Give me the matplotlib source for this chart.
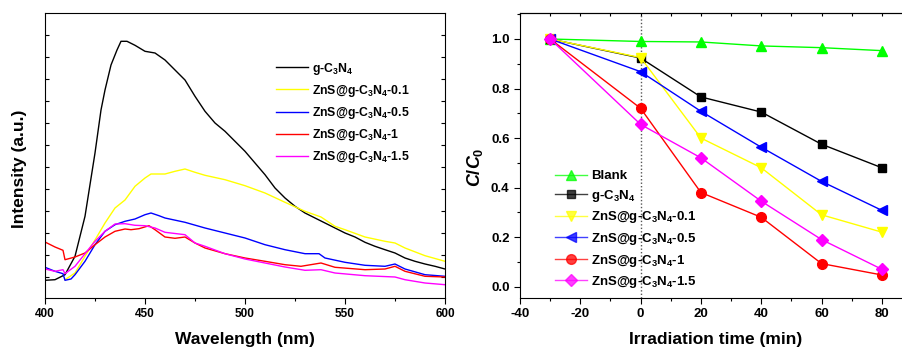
"""Two-panel figure: PL spectra (left) and photocatalytic degradation C/C0 (right)."""

import matplotlib
matplotlib.use("Agg")
import matplotlib.pyplot as plt
from matplotlib.ticker import FixedLocator, MultipleLocator
import numpy as np

plt.rcParams["font.family"] = ["Liberation Sans", "DejaVu Sans"]
plt.rcParams["font.weight"] = "bold"
plt.rcParams["axes.unicode_minus"] = False
plt.rcParams["mathtext.fontset"] = "custom"
plt.rcParams["mathtext.rm"] = "Liberation Sans:bold"
plt.rcParams["mathtext.bf"] = "Liberation Sans:bold"
plt.rcParams["mathtext.it"] = "Liberation Sans:italic:bold"

# ---- left panel: PL spectra (arbitrary units) ----
wl_black = [400, 405, 410, 415, 420, 425, 428, 430, 433, 436, 438, 441, 445, 450, 455, 460,
            465, 470, 475, 480, 485, 490, 495, 500, 505, 510, 515, 520, 525, 530, 535, 540,
            545, 550, 555, 560, 565, 570, 575, 580, 585, 590, 595, 600]
pl_black = [17.7, 18.3, 23.3, 41.7, 81.7, 145, 188, 208, 233, 248, 256.7, 256.7, 252.7, 246.7,
            245, 238, 228, 218, 201.7, 186.7, 175, 166.7, 156.7, 146.7, 135, 123.3, 110, 100,
            91.7, 85, 80, 75, 70, 65, 61, 55.7, 51.7, 48.3, 45, 40, 36.7, 34, 31.7, 29]

wl_yellow = [410, 415, 420, 425, 430, 435, 440, 445, 450, 453, 460, 465, 470, 475, 480, 490,
             500, 510, 520, 530, 538, 545, 550, 560, 570, 575, 580, 590, 600]
pl_yellow = [18.3, 25, 41.7, 58, 75, 90, 98, 111.7, 120, 124, 124, 126.7, 129, 125.7, 122.7,
             118.3, 112.3, 105, 95.7, 86.7, 81, 71.7, 68.3, 61, 56.7, 55, 50, 42.3, 36.7]

wl_blue = [400, 405, 409, 410, 413, 415, 420, 425, 430, 435, 440, 445, 450, 453, 457, 460,
           470, 480, 490, 500, 510, 520, 530, 537, 540, 550, 560, 570, 575, 580, 590, 600]
pl_blue = [30.7, 26.7, 24.3, 17.7, 19, 23.3, 36.7, 53.3, 66.7, 73.3, 76.7, 79, 83.3, 85, 82.3,
           80, 75.7, 70, 65, 60, 53.3, 48.3, 44.3, 44.3, 40, 35.7, 32.7, 31.7, 34, 29, 23.3, 21.7]

wl_red = [400, 405, 409, 410, 415, 420, 425, 430, 435, 440, 443, 447, 452, 455, 460, 465,
          470, 475, 480, 490, 500, 510, 520, 528, 538, 545, 560, 570, 575, 580, 590, 600]
pl_red = [56, 51, 47.7, 38.3, 41, 45, 53.3, 61, 66.7, 69, 68.3, 69.3, 72.3, 68.3, 61, 59.7,
          61, 55, 50, 44.3, 40, 36.7, 33.3, 31.7, 35, 30.7, 28.3, 29, 31.7, 26.7, 21.7, 21]

wl_magenta = [400, 405, 409, 410, 415, 420, 425, 430, 435, 440, 445, 450, 455, 460, 470, 475,
              480, 490, 500, 510, 520, 530, 538, 545, 560, 575, 580, 590, 600]
pl_magenta = [29, 26.7, 28.3, 24.3, 31.7, 44.3, 56.7, 66.7, 74, 74.3, 72.7, 72.3, 70, 65.7,
              63.3, 55, 51.7, 44.3, 39, 35, 31, 27.7, 28.3, 25, 22.3, 21, 18.3, 15, 13.3]

# ---- right panel: degradation ----
time_min = [-30, 0, 20, 40, 60, 80]
c_blank = [1.0, 0.99, 0.988, 0.972, 0.965, 0.953]
c_gcn = [1.0, 0.923, 0.766, 0.705, 0.575, 0.48]
c_zns01 = [1.0, 0.925, 0.60, 0.48, 0.29, 0.22]
c_zns05 = [1.0, 0.868, 0.708, 0.563, 0.425, 0.308]
c_zns1 = [1.0, 0.72, 0.38, 0.28, 0.093, 0.047]
c_zns15 = [1.0, 0.655, 0.52, 0.345, 0.19, 0.07]

lbl_gcn = r"g-C$_3$N$_4$"
lbl_01 = r"ZnS@g-C$_3$N$_4$-0.1"
lbl_05 = r"ZnS@g-C$_3$N$_4$-0.5"
lbl_1 = r"ZnS@g-C$_3$N$_4$-1"
lbl_15 = r"ZnS@g-C$_3$N$_4$-1.5"

fig = plt.figure(figsize=(9.03, 3.5), dpi=100)
W, H = 903, 350
ax1 = fig.add_axes([45 / W, 52 / H, 400 / W, 285 / H])
ax2 = fig.add_axes([520 / W, 52 / H, 392 / W, 285 / H])

# left panel
ax1.plot(wl_black, pl_black, color="black", lw=1, label=lbl_gcn)
ax1.plot(wl_yellow, pl_yellow, color="#ffff00", lw=1, label=lbl_01)
ax1.plot(wl_blue, pl_blue, color="#0000ff", lw=1, label=lbl_05)
ax1.plot(wl_red, pl_red, color="#ff0000", lw=1, label=lbl_1)
ax1.plot(wl_magenta, pl_magenta, color="#ff00ff", lw=1, label=lbl_15)
ax1.set_xlim(400, 600)
ax1.set_ylim(0, 285)
ax1.xaxis.set_major_locator(MultipleLocator(50))
ax1.xaxis.set_minor_locator(MultipleLocator(25))
ax1.yaxis.set_major_locator(FixedLocator(np.arange(21, 285, 22)))
ax1.tick_params(axis="y", which="both", direction="in", left=True, right=True,
                labelleft=False, length=3, width=0.8)
ax1.tick_params(axis="x", which="major", direction="out", length=4, width=0.8,
                labelsize=8.5, pad=3)
ax1.tick_params(axis="x", which="minor", direction="out", length=2.5, width=0.8)
ax1.set_xlabel("Wavelength (nm)", fontsize=12.5, fontweight="bold", labelpad=9)
ax1.set_ylabel("Intensity (a.u.)", fontsize=12.5, fontweight="bold")
ax1.yaxis.set_label_coords(-0.045, 0.455)
ax1.legend(loc="upper left", bbox_to_anchor=(0.565, 0.85), frameon=False,
           fontsize=8.8, handlelength=2.6, handletextpad=0.35, labelspacing=0.5,
           borderaxespad=0)

# right panel
ax2.axvline(0, color="#555555", lw=1, ls=(0, (1, 1.5)))
ax2.plot(time_min, c_blank, color="#00ff00", lw=1, marker="^", ms=7, label="Blank")
ax2.plot(time_min, c_gcn, color="black", lw=1, marker="s", ms=6, label=lbl_gcn)
ax2.plot(time_min, c_zns01, color="#ffff00", lw=1, marker="v", ms=7, label=lbl_01)
ax2.plot(time_min, c_zns05, color="#0000ff", lw=1, marker="<", ms=7, label=lbl_05)
ax2.plot(time_min, c_zns1, color="#ff0000", lw=1, marker="o", ms=7, label=lbl_1)
ax2.plot(time_min, c_zns15, color="#ff00ff", lw=1, marker="D", ms=6, label=lbl_15)
ax2.set_xlim(-40, 90)
ax2.set_ylim(-0.046, 1.105)
ax2.xaxis.set_major_locator(FixedLocator([-40, -20, 0, 20, 40, 60, 80]))
ax2.xaxis.set_minor_locator(MultipleLocator(10))
ax2.yaxis.set_major_locator(MultipleLocator(0.2))
ax2.yaxis.set_minor_locator(MultipleLocator(0.1))
ax2.yaxis.set_major_formatter(plt.FuncFormatter(lambda v, p: f"{v:.1f}"))
ax2.tick_params(which="major", direction="out", length=4, width=0.8, labelsize=9.5)
ax2.tick_params(which="minor", direction="out", length=2.5, width=0.8)
ax2.spines["right"].set_visible(False)
top = ax2.secondary_xaxis("top")
top.set_xticks(np.arange(-40, 91, 10))
top.tick_params(direction="in", length=2.5, width=0.8, labeltop=False)
top.xaxis.set_minor_locator(plt.NullLocator())
ax2.set_xlabel("Irradiation time (min)", fontsize=12.5, fontweight="bold", labelpad=8)
ax2.set_ylabel(r"$C/C_0$", fontsize=13)
ax2.yaxis.set_label_coords(-0.09, 0.46)
leg = ax2.legend(loc="lower left", bbox_to_anchor=(0.07, 0.0), frameon=False,
                 fontsize=9.5, handlelength=2.4, handletextpad=0.3, labelspacing=0.42,
                 borderaxespad=0.2)
for h in leg.get_lines():
    h.set_alpha(0.75)

fig.savefig("out.png", dpi=100)
